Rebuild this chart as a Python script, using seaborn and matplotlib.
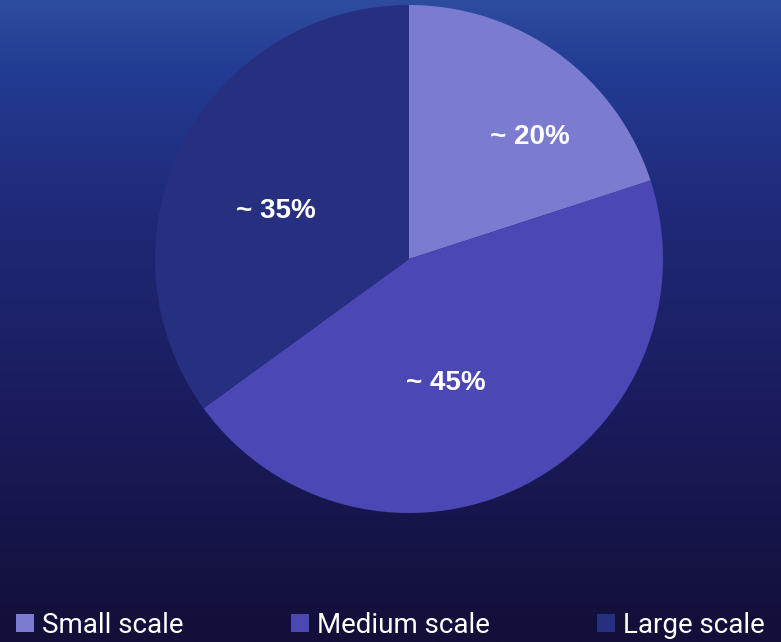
import numpy as np
import matplotlib
matplotlib.use("Agg")
import matplotlib.pyplot as plt
from matplotlib.colors import LinearSegmentedColormap
from matplotlib.patches import Patch
import seaborn as sns

# -----------------------------------------------------------
# DATA
# -----------------------------------------------------------

categories = ["Small scale", "Medium scale", "Large scale"]
shares = [20, 45, 35]
share_labels = ["~ 20%", "~ 45%", "~ 35%"]
slice_colors = ["#7b7bcf", "#4b47b4", "#262f80"]

# label spots inside the pie (unit radius)
label_pos = [(0.476, 0.480), (0.146, -0.488), (-0.524, 0.189)]

sns.set_theme(style="white")
plt.rcParams['font.family'] = ['Roboto', 'DejaVu Sans']

fig = plt.figure(figsize=(7.81, 6.42), dpi=100)

# -----------------------------------------------------------
# BACKGROUND GRADIENT
# -----------------------------------------------------------

bg = fig.add_axes([0, 0, 1, 1])
bg_cmap = LinearSegmentedColormap.from_list(
    "bg",
    [(0.0, "#2d4c9f"), (0.12, "#223a92"), (0.35, "#1f2876"),
     (0.65, "#1a1b5c"), (1.0, "#120f38")]
)
grad = np.linspace(0, 1, 256).reshape(-1, 1)
bg.imshow(grad, aspect="auto", cmap=bg_cmap, extent=[0, 1, 0, 1], origin="upper")
bg.set_axis_off()

# -----------------------------------------------------------
# PIE
# -----------------------------------------------------------

cx, cy, r = 409 / 781, 1 - 259 / 642, 254
w, h = 2 * r / 781, 2 * r / 642
ax = fig.add_axes([cx - w / 2, cy - h / 2, w, h])
ax.pie(
    shares,
    colors=slice_colors,
    startangle=90,
    counterclock=False,
    radius=1,
    wedgeprops=dict(linewidth=0),
)
ax.set_xlim(-1, 1)
ax.set_ylim(-1, 1)
ax.set_aspect("equal")
ax.set_axis_off()

for (x, y), txt in zip(label_pos, share_labels):
    ax.text(x, y, txt, ha="center", va="center", color="white",
            fontsize=20, fontweight="bold", family=["Liberation Sans", "DejaVu Sans"])

# -----------------------------------------------------------
# LEGEND
# -----------------------------------------------------------

handles = [Patch(facecolor=c, edgecolor="none") for c in slice_colors]
fig.legend(
    handles, categories,
    loc="lower center",
    bbox_to_anchor=(0.5, -0.012),
    ncol=3,
    frameon=False,
    fontsize=20,
    labelcolor="white",
    handlelength=0.65,
    handleheight=0.65,
    handletextpad=0.3,
    columnspacing=3.85,
    borderaxespad=0,
)

fig.savefig("out.png", dpi=100)
